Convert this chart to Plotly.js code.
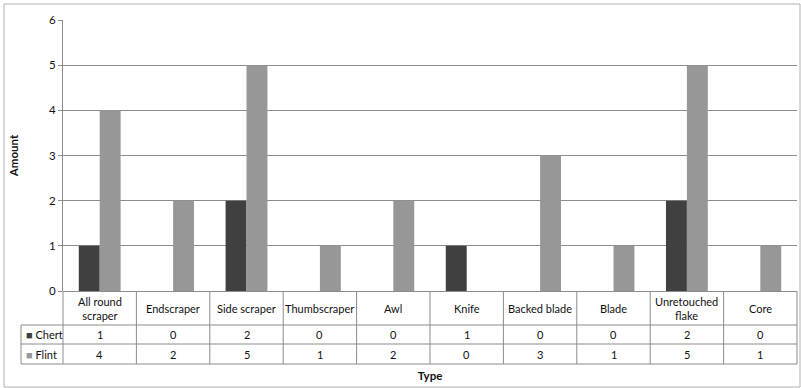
<!DOCTYPE html>
<html>
<head>
<meta charset="utf-8">
<script src="https://cdn.plot.ly/plotly-3.0.1.min.js"></script>
<style>html,body{margin:0;padding:0;background:#fff;}#chart{width:801px;height:388px;}</style>
</head>
<body>
<div id="chart"></div>
<script>
var categories = ["All round<br>scraper", "Endscraper", "Side scraper", "Thumbscraper", "Awl", "Knife", "Backed blade", "Blade", "Unretouched<br>flake", "Core"];
var chert = [1, 0, 2, 0, 0, 1, 0, 0, 2, 0];
var flint = [4, 2, 5, 1, 2, 0, 3, 1, 5, 1];
var seriesNames = ["Chert", "Flint"];
var seriesColors = ["#404040", "#979797"];

var W = 801, H = 388;
var mL = 63, mR = 4, mT = 20, mB = 97;
var pw = W - mL - mR, ph = H - mT - mB;
function px2paperX(px) { return (px - mL) / pw; }
function px2paperY(py) { return (H - mB - py) / ph; }

var idx = categories.map(function (_, i) { return i; });
var FONT = "Lato, 'Open Sans', sans-serif";
var lineCol = "#8c8c8c";

var traces = [
  { type: "bar", name: seriesNames[0], x: idx, y: chert, marker: { color: seriesColors[0] }, hoverinfo: "x+y" },
  { type: "bar", name: seriesNames[1], x: idx, y: flint, marker: { color: seriesColors[1] }, hoverinfo: "x+y" }
];

var shapes = [];
var annotations = [];
var rowTop = 291, rowHdr = 325, rowChert = 344, rowFlint = 364, legLeft = 21;
for (var i = 0; i <= categories.length; i++) {
  shapes.push({ type: "line", xref: "paper", yref: "paper", x0: i / categories.length, x1: i / categories.length,
    y0: px2paperY(rowTop), y1: px2paperY(rowFlint), line: { color: lineCol, width: 1 } });
}
[rowHdr, rowChert, rowFlint].forEach(function (r) {
  shapes.push({ type: "line", xref: "paper", yref: "paper", x0: px2paperX(legLeft), x1: 1,
    y0: px2paperY(r), y1: px2paperY(r), line: { color: lineCol, width: 1 } });
});
shapes.push({ type: "line", xref: "paper", yref: "paper", x0: px2paperX(legLeft), x1: px2paperX(legLeft),
  y0: px2paperY(rowHdr), y1: px2paperY(rowFlint), line: { color: lineCol, width: 1 } });
shapes.push({ type: "rect", xref: "paper", yref: "paper", x0: px2paperX(4), x1: px2paperX(800),
  y0: px2paperY(387), y1: px2paperY(4), line: { color: "#b0b0b0", width: 1 }, layer: "below" });

var txtFont = { family: FONT, size: 11, color: "#111111" };
categories.forEach(function (c, i) {
  annotations.push({ xref: "x", yref: "paper", x: i, y: px2paperY((rowTop + rowHdr) / 2), text: c,
    showarrow: false, font: txtFont, xanchor: "center", yanchor: "middle" });
  annotations.push({ xref: "x", yref: "paper", x: i, y: px2paperY((rowHdr + rowChert) / 2), text: String(chert[i]),
    showarrow: false, font: txtFont, xanchor: "center", yanchor: "middle" });
  annotations.push({ xref: "x", yref: "paper", x: i, y: px2paperY((rowChert + rowFlint) / 2), text: String(flint[i]),
    showarrow: false, font: txtFont, xanchor: "center", yanchor: "middle" });
});
[[rowHdr, rowChert], [rowChert, rowFlint]].forEach(function (r, k) {
  annotations.push({ xref: "paper", yref: "paper", x: px2paperX(legLeft + 3), y: px2paperY((r[0] + r[1]) / 2),
    text: '<span style="color:' + seriesColors[k] + '">■</span> ' + seriesNames[k],
    showarrow: false, font: txtFont, xanchor: "left", yanchor: "middle" });
});

var layout = {
  width: W, height: H,
  margin: { l: mL, r: mR, t: mT, b: mB, pad: 0 },
  paper_bgcolor: "#ffffff", plot_bgcolor: "#ffffff",
  showlegend: false,
  barmode: "group", bargap: 0.43, bargroupgap: 0,
  font: { family: FONT, size: 11, color: "#111111" },
  xaxis: {
    range: [-0.5, categories.length - 0.5], showticklabels: false, showgrid: false, zeroline: false,
    showline: false, ticks: "", fixedrange: true,
    title: { text: "<b>Type</b>", font: { family: FONT, size: 11.5, color: "#111111" }, standoff: 80 }
  },
  yaxis: {
    range: [0, 6], dtick: 1, showgrid: true, gridcolor: lineCol, gridwidth: 1,
    zeroline: true, zerolinecolor: lineCol, zerolinewidth: 1,
    showline: true, linecolor: lineCol, linewidth: 1,
    ticks: "outside", ticklen: 4, tickcolor: lineCol,
    tickfont: { family: FONT, size: 11.5, color: "#111111" },
    title: { text: "<b>Amount</b>", font: { family: FONT, size: 11.5, color: "#111111" }, standoff: 28 },
    fixedrange: true
  },
  shapes: shapes,
  annotations: annotations
};

Plotly.newPlot("chart", traces, layout, { displayModeBar: false, staticPlot: true });
</script>
</body>
</html>
